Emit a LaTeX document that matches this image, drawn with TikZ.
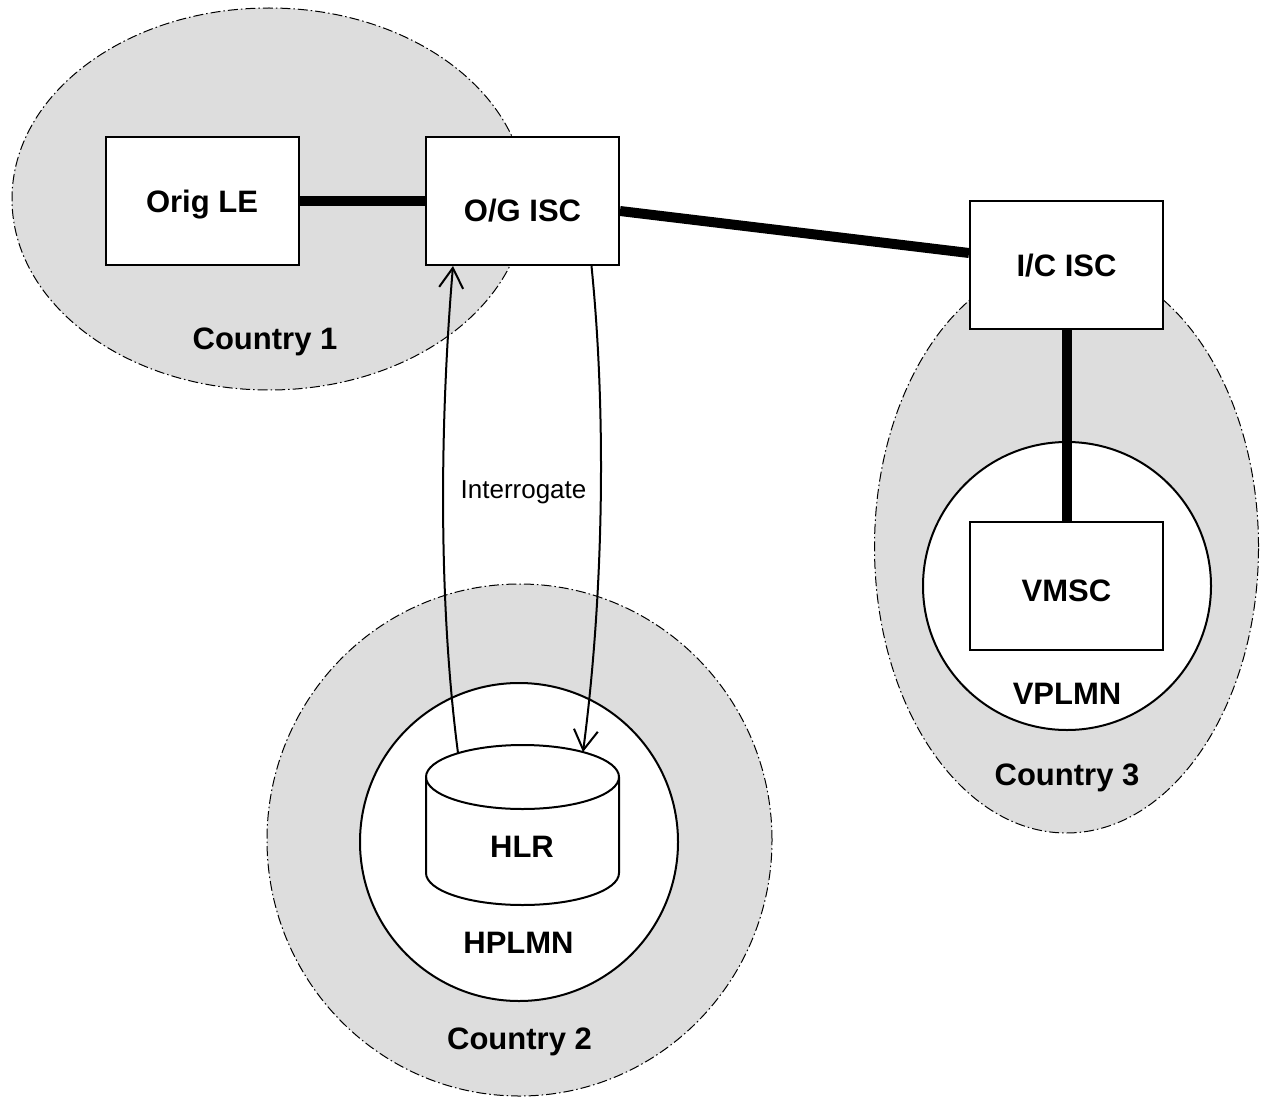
\documentclass[tikz,border=0pt]{standalone}
\usepackage{fontspec}
\setmainfont{Liberation Sans}
\usetikzlibrary{shapes.geometric,arrows.meta}
\definecolor{countrygray}{RGB}{221,221,221}
\newcommand\boldfnt{\fontsize{31}{37}\selectfont\bfseries}
\newcommand\regfnt{\fontsize{26}{31}\selectfont}
\begin{document}
\begin{tikzpicture}[x=1pt,y=1pt,
  country/.style={ellipse, draw, fill=countrygray, line width=1pt,
    dash pattern=on 10pt off 3pt on 1.5pt off 3pt, inner sep=0pt},
  network/.style={circle, draw, fill=white, line width=2pt, inner sep=0pt},
  boxnode/.style={rectangle, draw, fill=white, line width=2pt,
    minimum width=193pt, minimum height=128pt, inner sep=0pt,
    font=\boldfnt, text height=22pt, text depth=0pt},
  lbl/.style={font=\boldfnt, inner sep=0pt, text height=22pt, text depth=0pt},
  thickline/.style={line width=10pt},
  arr/.style={line width=2pt, -{Straight Barb[length=20pt,width=24pt]}}
]
\useasboundingbox (0,0) rectangle (1266,-1097);
\fill[white] (0,0) rectangle (1266,-1097);

% countries
\node[country, minimum width=514pt, minimum height=382pt] (country1) at (269,-199) {};
\node[country, minimum width=505pt, minimum height=512pt] (country2) at (519.5,-840) {};
\node[country, minimum width=384pt, minimum height=572pt] (country3) at (1066.5,-547) {};

% networks
\node[network, minimum size=318pt] (hplmn) at (519,-842) {};
\node[network, minimum size=288pt] (vplmn) at (1067,-586) {};

% boxes
\node[boxnode] (origle) at (202,-201) {Orig LE};
\node[boxnode, text height=40pt] (ogisc) at (522.5,-201) {O/G ISC};
\node[boxnode] (icisc) at (1066.5,-265) {I/C ISC};
\node[boxnode, text height=31pt] (vmsc) at (1066.5,-585.5) {VMSC};

% HLR cylinder
\filldraw[fill=white, line width=2pt] (426,-777) -- (426,-873)
  arc[start angle=180, end angle=360, x radius=96.5pt, y radius=32pt]
  -- (619,-777)
  arc[start angle=0, end angle=180, x radius=96.5pt, y radius=32pt] -- cycle;
\draw[line width=2pt] (426,-777)
  arc[start angle=180, end angle=360, x radius=96.5pt, y radius=32pt];
\node[lbl] (hlr) at (522,-846) {HLR};
\coordinate (hlrL) at (458,-753);
\coordinate (hlrR) at (583,-752);

% trunk lines
\draw[thickline] (origle.east) -- (ogisc.west);
\draw[thickline] ([yshift=-10pt]ogisc.east) -- ([yshift=12pt]icisc.west);
\draw[thickline] (icisc.south) -- (vmsc.north);

% interrogation arrows
\draw[arr] (hlrL) .. controls (438,-600) and (440,-420) .. ([xshift=-69.5pt]ogisc.south);
\draw[arr] ([xshift=69pt]ogisc.south) .. controls (607,-420) and (603,-600) .. (hlrR);
\node[font=\regfnt, inner sep=0pt, text height=18.6pt, text depth=0pt] (interlbl) at (523.5,-489.5) {Interrogate};

% labels
\node[lbl] (c1lbl) at (265,-338) {Country 1};
\node[lbl] (c2lbl) at (519.5,-1038) {Country 2};
\node[lbl] (c3lbl) at (1067,-774) {Country 3};
\node[lbl] (hplmnlbl) at (518.5,-942) {HPLMN};
\node[lbl] (vplmnlbl) at (1067,-693.5) {VPLMN};
\end{tikzpicture}
\end{document}
